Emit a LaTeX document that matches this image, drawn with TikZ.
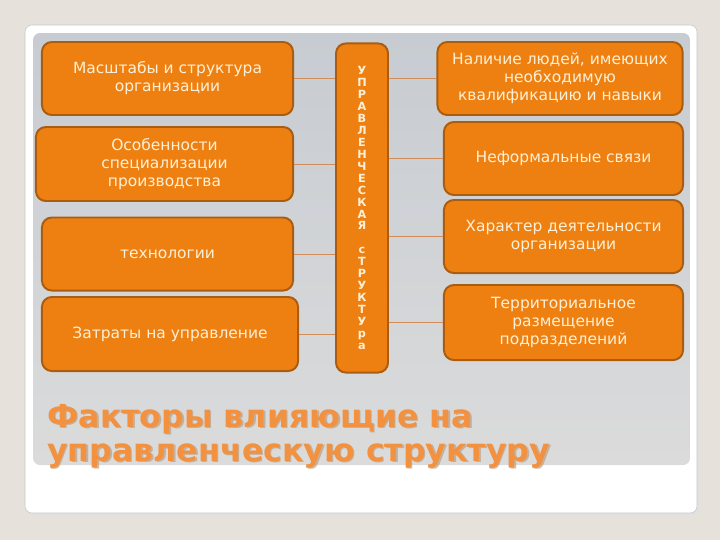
\documentclass[tikz,border=0pt]{standalone}
\usepackage{fontspec}
\setmainfont{DejaVu Sans}
\usepackage{tikz}
\usetikzlibrary{positioning,calc}
\definecolor{pagebg}{RGB}{230,226,219}
\definecolor{panelA}{RGB}{199,204,210}
\definecolor{panelB}{RGB}{219,219,219}
\definecolor{boxfill}{RGB}{238,128,18}
\definecolor{boxedge}{RGB}{170,92,16}
\definecolor{boxtext}{RGB}{253,240,214}
\definecolor{wirecol}{RGB}{208,140,90}
\definecolor{titleorange}{RGB}{242,146,64}
\definecolor{titleshade}{RGB}{180,150,120}
\tikzstyle{factor} = [rectangle, draw=boxedge, line width=1.4pt, fill=boxfill, rounded corners=7pt, text=boxtext, align=center, inner sep=2pt, font=\fontsize{11}{12.8}\selectfont]
\tikzstyle{link} = [draw, wirecol, line width=0.6pt]
\tikzstyle{headline} = [align=left, inner sep=0pt, anchor=north west, font=\bfseries\fontsize{22.5}{24}\selectfont]

\begin{document}
\begin{tikzpicture}[x=0.025cm, y=-0.025cm]
    \useasboundingbox (0,0) rectangle (720,540);
    \fill [pagebg] (0,0) rectangle (720,540);
    % slide card and grey panel
    \fill [black!12, rounded corners=5pt] (26,27) rectangle (699,515);
    \draw [black!22, fill=white, rounded corners=5pt] (25,25) rectangle (697,513);
    \shade [rounded corners=5pt, top color=panelA, bottom color=panelB] (33,33) rectangle (690,465);

    % left column
    \node (scale) [factor, minimum width=6.275cm, minimum height=1.825cm] at (167.5,78.5) {Масштабы и структура\\организации};
    \node (special) [factor, minimum width=6.425cm, minimum height=1.85cm] at (164.5,164) {Особенности\\специализации\\производства};
    \node (tech) [factor, minimum width=6.275cm, minimum height=1.825cm] at (167.5,254) {технологии};
    \node (costs) [factor, minimum width=6.4cm, minimum height=1.85cm] at (170,334) {Затраты на управление};

    % middle bar
    \node (mgmt) [factor, minimum width=1.3cm, minimum height=8.225cm, font=\bfseries\fontsize{8}{8.5}\selectfont] at (362,208) {У\\П\\Р\\А\\В\\Л\\Е\\Н\\Ч\\Е\\С\\К\\А\\Я\\~\\с\\Т\\Р\\У\\К\\Т\\У\\р\\а};

    % right column
    \node (people) [factor, minimum width=6.125cm, minimum height=1.825cm] at (560,78.5) {Наличие людей, имеющих\\необходимую\\квалификацию и навыки};
    \node (informal) [factor, minimum width=5.975cm, minimum height=1.825cm] at (563.5,158.5) {Неформальные связи};
    \node (activity) [factor, minimum width=5.975cm, minimum height=1.825cm] at (563.5,236.5) {Характер деятельности\\организации};
    \node (territory) [factor, minimum width=5.975cm, minimum height=1.875cm] at (563.5,322.5) {Территориальное\\размещение\\подразделений};

    \path [link] (scale.east) -- (scale.east -| mgmt.west);
    \path [link] (special.east) -- (special.east -| mgmt.west);
    \path [link] (tech.east) -- (tech.east -| mgmt.west);
    \path [link] (costs.east) -- (costs.east -| mgmt.west);
    \path [link] (people.west -| mgmt.east) -- (people.west);
    \path [link] (informal.west -| mgmt.east) -- (informal.west);
    \path [link] (activity.west -| mgmt.east) -- (activity.west);
    \path [link] (territory.west -| mgmt.east) -- (territory.west);

    % title with its soft shadow
    \node (titleshadow) [headline, text=titleshade, opacity=0.6] at (48.5,405.5) {Факторы влияющие на\\управленческую структуру};
    \node (title) [headline, text=titleorange] at (47,404) {Факторы влияющие на\\управленческую структуру};

\end{tikzpicture}
\end{document}
